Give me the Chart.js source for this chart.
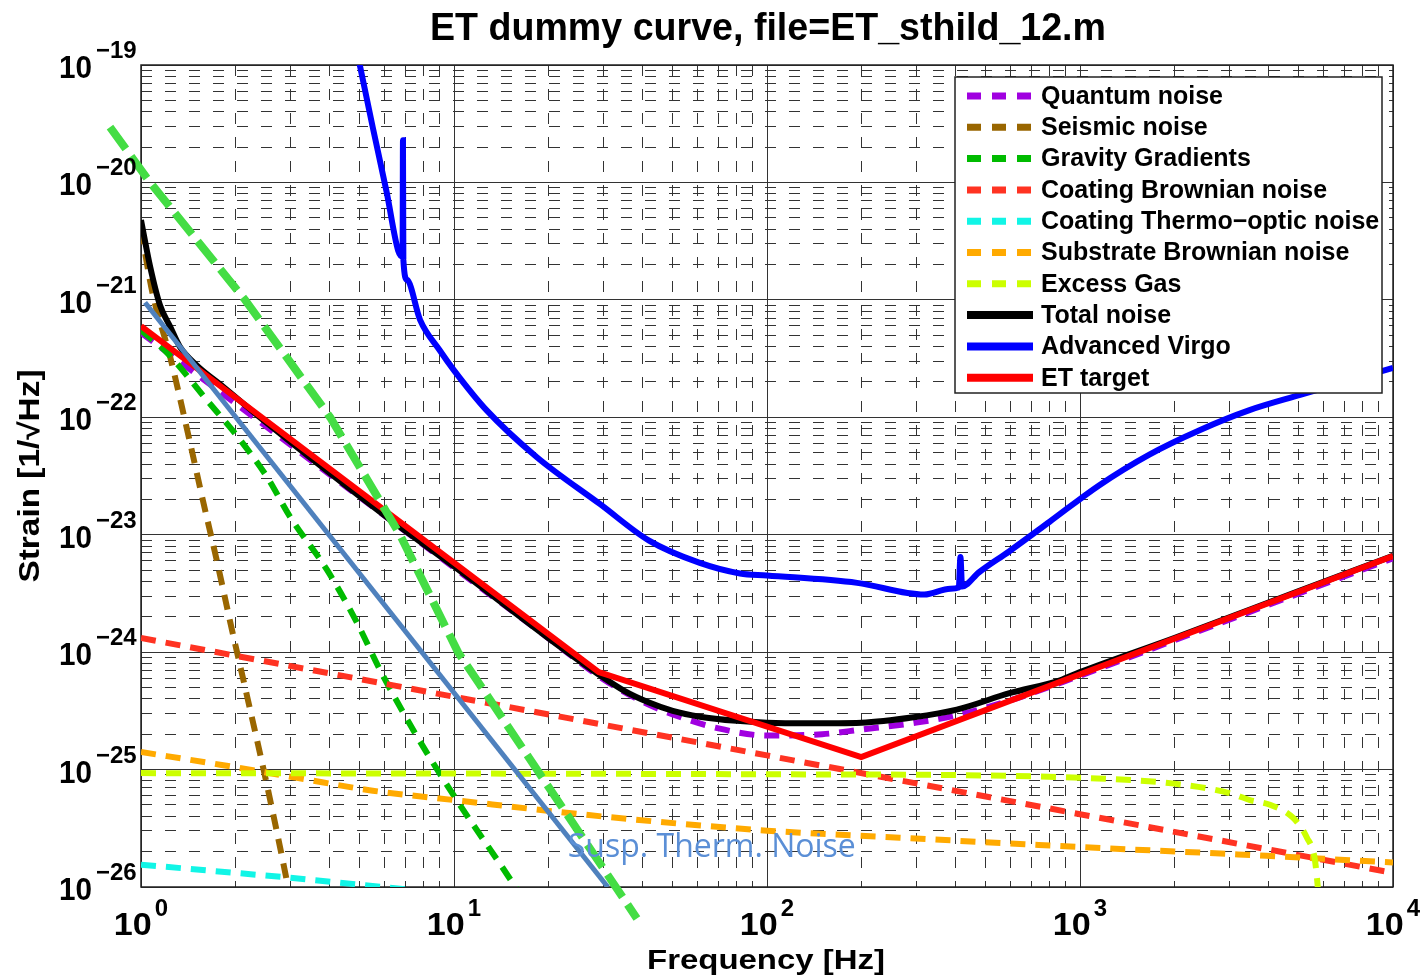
<!DOCTYPE html>
<html>
<head>
<meta charset="utf-8">
<script src="https://cdn.jsdelivr.net/npm/chart.js@4.4.1/dist/chart.umd.min.js"></script>
<style>
  html, body { margin: 0; padding: 0; background: #fff; }
  #wrap { width: 1425px; height: 979px; }
</style>
</head>
<body>
<div id="wrap"><canvas id="chart" width="1425" height="979"></canvas></div>
<script>
// axis decades (tick labels are 10^e)
const xDecades = [0, 1, 2, 3, 4];
const yDecades = [-26, -25, -24, -23, -22, -21, -20, -19];

// curves, frequency [Hz] and strain [1/sqrt(Hz)]
const quantumFreq = [1, 2, 5, 10, 20, 30, 40, 50, 70, 100, 150, 200, 300, 400, 600, 1000, 2000, 5000, 10000];
const quantumStrain = [5.25e-22, 1.32e-22, 2.09e-23, 5.25e-24, 1.32e-24, 5.89e-25, 3.80e-25, 2.95e-25, 2.24e-25, 1.95e-25, 2.0e-25, 2.19e-25, 2.51e-25, 2.88e-25, 3.89e-25, 6.31e-25, 1.26e-24, 3.16e-24, 6.31e-24];

const seismicFreq = [1, 1.09, 1.24, 1.43, 1.58, 1.75, 1.93, 2.18, 2.53, 2.88, 3.1];
const seismicStrain = [3.98e-21, 1.12e-21, 3.24e-22, 6.31e-23, 1.91e-23, 5.89e-24, 1.78e-24, 4.27e-25, 7.24e-26, 1.38e-26, 5.0e-27];

const gravityFreq = [1, 1.21, 1.62, 2.07, 2.53, 3.0, 3.93, 4.9, 5.8, 6.9, 8.2, 10.2, 15.7, 17];
const gravityStrain = [5.5e-22, 3.55e-22, 1.41e-22, 6.46e-23, 3.09e-23, 1.41e-23, 5.01e-24, 1.78e-24, 7.08e-25, 3.02e-25, 1.38e-25, 5.5e-26, 1.0e-26, 7.1e-27];

const coatBrownFreq = [1, 10, 100, 1000, 10000];
const coatBrownStrain = [1.32e-24, 4.17e-25, 1.32e-25, 4.17e-26, 1.32e-26];

const coatThermoFreq = [1, 3, 10];
const coatThermoStrain = [1.55e-26, 1.2e-26, 8.7e-27];

const substrateFreq = [1, 1.79, 3.15, 5.5, 10, 30, 100, 265, 1000, 3000, 10000];
const substrateStrain = [1.41e-25, 1.10e-25, 8.51e-26, 6.61e-26, 5.50e-26, 3.98e-26, 3.02e-26, 2.63e-26, 2.19e-26, 1.91e-26, 1.62e-26];

const gasFreq = [1, 100, 500, 1000, 2000, 3000, 3490, 4045, 4790, 5310, 5630, 5800];
const gasStrain = [9.33e-26, 9.12e-26, 8.91e-26, 8.51e-26, 7.59e-26, 6.31e-26, 5.50e-26, 5.01e-26, 3.89e-26, 2.63e-26, 1.70e-26, 7.94e-27];

const totalFreq = [1, 1.07, 1.15, 1.24, 1.33, 1.51, 1.83, 2.5, 6.1, 10, 20, 29, 35, 42, 50, 61, 80, 100, 134, 200, 294, 404, 595, 863, 1000, 2000, 5000, 10000];
const totalStrain = [4.79e-21, 1.91e-21, 9.0e-22, 5.9e-22, 4.0e-22, 2.75e-22, 1.82e-22, 9.12e-23, 1.41e-23, 5.37e-24, 1.32e-24, 6.46e-25, 4.68e-25, 3.72e-25, 3.16e-25, 2.82e-25, 2.6e-25, 2.51e-25, 2.48e-25, 2.51e-25, 2.79e-25, 3.24e-25, 4.47e-25, 5.75e-25, 6.76e-25, 1.32e-24, 3.31e-24, 6.61e-24];

const virgoFreq = [4.8, 5.0, 5.5, 6.1, 6.63, 6.85, 6.87, 6.89, 7.08, 7.79, 9.0, 10, 12.7, 18.4, 29.3, 42, 61, 82, 100, 194, 318, 385, 410, 415, 420, 476, 595, 800, 1150, 1660, 2410, 3480, 5050, 10000];
const virgoStrain = [1.7e-19, 1.0e-19, 2.95e-20, 8.13e-21, 2.63e-21, 2.34e-21, 2.29e-20, 2.19e-21, 1.48e-21, 6.76e-22, 3.72e-22, 2.51e-22, 1.15e-22, 4.57e-23, 1.82e-23, 8.9e-24, 5.75e-24, 4.68e-24, 4.5e-24, 3.89e-24, 3.09e-24, 3.47e-24, 3.55e-24, 6.46e-24, 3.63e-24, 4.79e-24, 7.24e-24, 1.29e-23, 2.63e-23, 4.79e-23, 7.76e-23, 1.15e-22, 1.55e-22, 2.63e-22];

const targetFreq = [1, 29, 200, 10000];
const targetStrain = [5.98e-22, 6.76e-25, 1.28e-25, 6.58e-24];

// pasted-on extras: suspension thermal noise line and a second gravity-gradient line
const suspFreq = [1.03, 31];
const suspStrain = [9.5e-22, 1.0e-26];
const ggExtraFreq = [0.796, 1.069, 2.15, 4.02, 6.72, 10.3, 18.4, 38.4];
const ggExtraStrain = [2.96e-20, 1.0e-20, 1.0e-21, 1.0e-22, 1.0e-23, 1.0e-24, 1.0e-25, 5.4e-27];

const suspLabel = "Susp. Therm. Noise";

function pts(f, h) {
    return f.map((v, i) => ({ x: v, y: h[i] }));
}

function isDecade(v) {
    let l = Math.log10(v);
    return Math.abs(l - Math.round(l)) < 1e-6;
}

const xTickValues = [];
xDecades.forEach(e => {
    for (let s = 1; s <= 9; s++) {
        if (e === 4 && s > 1) break;
        xTickValues.push(s * Math.pow(10, e));
    }
});
const yTickValues = [];
yDecades.forEach(e => {
    for (let s = 1; s <= 9; s++) {
        if (e === -19 && s > 1) break;
        yTickValues.push(s * Math.pow(10, e));
    }
});

const dash = [15, 10];

function line(label, f, h, color, dashed, order, smooth) {
    return {
        label: label,
        data: pts(f, h),
        borderColor: color,
        backgroundColor: color,
        borderWidth: 6,
        borderDash: dashed ? dash : [],
        borderCapStyle: 'butt',
        pointRadius: 0,
        fill: false,
        order: order,
        cubicInterpolationMode: smooth ? 'monotone' : 'default',
        tension: 0
    };
}

const datasets = [
    line('Quantum noise', quantumFreq, quantumStrain, '#A000E0', true, 11, true),
    line('Seismic noise', seismicFreq, seismicStrain, '#996600', true, 10, true),
    line('Gravity Gradients', gravityFreq, gravityStrain, '#00BB00', true, 9, true),
    line('Coating Brownian noise', coatBrownFreq, coatBrownStrain, '#FF3322', true, 8, false),
    line('Coating Thermo\u2212optic noise', coatThermoFreq, coatThermoStrain, '#11F5E6', true, 7, false),
    line('Substrate Brownian noise', substrateFreq, substrateStrain, '#FFAA00', true, 6, true),
    line('Excess Gas', gasFreq, gasStrain, '#CCFF00', true, 5, true),
    line('Total noise', totalFreq, totalStrain, '#000000', false, 4, true),
    line('Advanced Virgo', virgoFreq, virgoStrain, '#0000FF', false, 3, true),
    line('ET target', targetFreq, targetStrain, '#FF0000', false, 2, false),
    {
        label: '',
        data: pts(suspFreq, suspStrain),
        borderColor: '#4F81BD',
        borderWidth: 5,
        pointRadius: 0,
        order: 1
    },
    {
        label: '',
        data: pts(ggExtraFreq, ggExtraStrain),
        borderColor: '#44DD44',
        borderWidth: 8,
        borderDash: [27, 9],
        borderCapStyle: 'butt',
        pointRadius: 0,
        order: 0,
        clip: false
    }
];

function fitText(ctx, text, x, y, font, width, align) {
    ctx.save();
    ctx.font = font;
    let w = ctx.measureText(text).width;
    ctx.translate(x, y);
    if (width) ctx.scale(width / w, 1);
    ctx.textAlign = align || 'center';
    ctx.fillText(text, 0, 0);
    ctx.restore();
}

const decor = {
    id: 'decor',
    beforeDatasetsDraw(chart) {
        const { ctx, chartArea: a } = chart;
        ctx.save();
        ctx.strokeStyle = '#222';
        ctx.lineWidth = 1.5;
        ctx.strokeRect(a.left, a.top, a.right - a.left, a.bottom - a.top);
        ctx.restore();
    },
    afterDatasetsDraw(chart) {
        const ctx = chart.ctx;
        // legend box
        ctx.save();
        ctx.fillStyle = '#fff';
        ctx.fillRect(955, 77, 427, 316);
        ctx.strokeStyle = '#222';
        ctx.lineWidth = 1.5;
        ctx.strokeRect(955, 77, 427, 316);
        let items = chart.data.datasets.filter(d => d.label);
        items.forEach((d, i) => {
            let cy = 96 + i * 31.3;
            ctx.beginPath();
            ctx.strokeStyle = d.borderColor;
            ctx.lineWidth = d.borderDash.length ? 7 : 8;
            ctx.setLineDash(d.borderDash.length ? [14, 11] : []);
            ctx.moveTo(967, cy);
            ctx.lineTo(1033, cy);
            ctx.stroke();
            ctx.setLineDash([]);
            ctx.fillStyle = '#000';
            ctx.font = 'bold 25px "Liberation Sans", Arial, sans-serif';
            ctx.textAlign = 'left';
            ctx.textBaseline = 'middle';
            ctx.fillText(d.label, 1041, cy + 1);
        });
        ctx.restore();

        // annotation text
        const xs = chart.scales.x, ys = chart.scales.y;
        ctx.save();
        ctx.fillStyle = '#5B8FD6';
        ctx.font = '32px "Open Sans", sans-serif';
        ctx.textAlign = 'left';
        ctx.textBaseline = 'alphabetic';
        ctx.fillText(suspLabel, xs.getPixelForValue(23.1), ys.getPixelForValue(1.79e-26));
        ctx.restore();
    },
    afterDraw(chart) {
        const ctx = chart.ctx;
        const xs = chart.scales.x, ys = chart.scales.y;
        ctx.save();
        ctx.fillStyle = '#000';
        ctx.textBaseline = 'alphabetic';
        const base = 'bold 31px "Liberation Sans", Arial, sans-serif';
        const sup = 'bold 24px "Liberation Sans", Arial, sans-serif';
        // y tick labels
        yDecades.forEach(e => {
            let py = ys.getPixelForValue(Math.pow(10, e));
            fitText(ctx, '10', 92, py + 13, base, 33, 'right');
            ctx.font = sup;
            ctx.textAlign = 'left';
            ctx.fillText('\u2212' + Math.abs(e), 96, py - 7);
        });
        // x tick labels
        xDecades.forEach(e => {
            let px = xs.getPixelForValue(Math.pow(10, e));
            ctx.font = sup;
            let w2 = ctx.measureText(String(e)).width;
            let w1 = 38;
            let left = px - (w1 + 3 + w2) / 2;
            fitText(ctx, '10', left, 935, base, w1, 'left');
            ctx.font = sup;
            ctx.textAlign = 'left';
            ctx.fillText(String(e), left + w1 + 3, 916);
        });
        // titles
        fitText(ctx, 'ET dummy curve, file=ET_sthild_12.m', 768, 40, 'bold 38px "Liberation Sans", Arial, sans-serif', 676, 'center');
        fitText(ctx, 'Frequency [Hz]', 766, 969, 'bold 28px "Liberation Sans", Arial, sans-serif', 238, 'center');
        ctx.save();
        ctx.translate(39, 476);
        ctx.rotate(-Math.PI / 2);
        fitText(ctx, 'Strain [1/\u221AHz]', 0, 0, 'bold 29px "Liberation Sans", Arial, sans-serif', 213, 'center');
        ctx.restore();
        ctx.restore();
    }
};

const gridDash = (c) => (c.tick && isDecade(c.tick.value)) ? [] : [11, 13];

new Chart(document.getElementById('chart'), {
    type: 'line',
    data: { datasets: datasets },
    options: {
        responsive: false,
        animation: false,
        parsing: true,
        layout: { padding: { left: 141, top: 65, right: 32, bottom: 92 } },
        plugins: {
            legend: { display: false },
            tooltip: { enabled: false },
            title: { display: false }
        },
        scales: {
            x: {
                type: 'logarithmic',
                min: 1,
                max: 10000,
                afterBuildTicks: (s) => { s.ticks = xTickValues.map(v => ({ value: v })); },
                afterFit: (s) => { s.height = 0; },
                ticks: { display: false },
                grid: { color: '#333', lineWidth: 1, drawTicks: false },
                border: { display: false, dash: gridDash }
            },
            y: {
                type: 'logarithmic',
                min: 1e-26,
                max: 1e-19,
                afterBuildTicks: (s) => { s.ticks = yTickValues.map(v => ({ value: v })); },
                afterFit: (s) => { s.width = 0; },
                ticks: { display: false },
                grid: { color: '#333', lineWidth: 1, drawTicks: false },
                border: { display: false, dash: gridDash }
            }
        }
    },
    plugins: [decor]
});
</script>
</body>
</html>
